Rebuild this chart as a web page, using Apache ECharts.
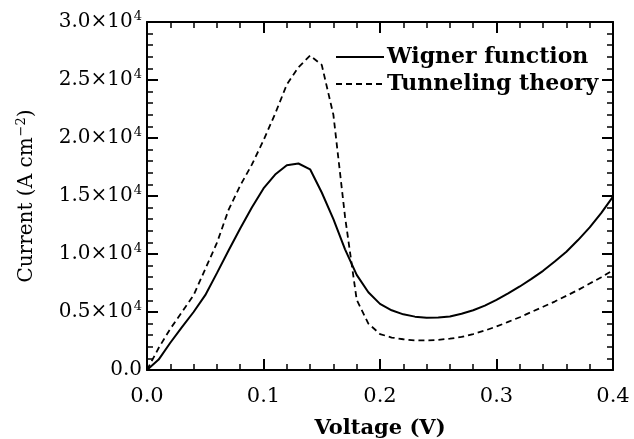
<!DOCTYPE html>
<html>
<head>
<meta charset="utf-8">
<script src="https://cdn.jsdelivr.net/npm/echarts@6/dist/echarts.min.js"></script>
<style>
html,body{margin:0;padding:0;background:#fff;}
#chart{width:634px;height:439px;}
</style>
</head>
<body>
<div id="chart"></div>
<script>
// Voltage (V)
const voltage = [0.00,0.01,0.02,0.03,0.04,0.05,0.06,0.07,0.08,0.09,
                 0.10,0.11,0.12,0.13,0.14,0.15,0.16,0.17,0.18,0.19,
                 0.20,0.21,0.22,0.23,0.24,0.25,0.26,0.27,0.28,0.29,
                 0.30,0.31,0.32,0.33,0.34,0.35,0.36,0.37,0.38,0.39,0.40];
// Current (A cm^-2)
const wigner = [0,900,2350,3700,5000,6450,8350,10300,12200,14000,
                15650,16850,17650,17800,17300,15300,13000,10400,8200,6700,
                5700,5150,4800,4600,4500,4520,4620,4850,5150,5550,
                6050,6600,7200,7850,8550,9350,10200,11200,12300,13550,14950];
const tunneling = [0,1900,3550,5000,6450,8700,10950,13800,15900,17700,
                   19800,22100,24600,26100,27100,26300,22000,13200,6050,4000,
                   3100,2800,2650,2550,2550,2600,2700,2850,3100,3400,
                   3750,4150,4550,5000,5450,5900,6400,6900,7450,8000,8600];
const seriesNames = ['Wigner function', 'Tunneling theory'];
const xTickLabels = ['0.0','0.1','0.2','0.3','0.4'];
const yTickMantissa = ['0.0','0.5','1.0','1.5','2.0','2.5','3.0'];
const yTickExp = '4';
const xName = 'Voltage (V)';
const yNameMain = 'Current (A cm';
const yNameExp = '−2';

const FONT = 'DejaVu Serif';
const chart = echarts.init(document.getElementById('chart'), null, {renderer: 'canvas'});

function pairs(xs, ys){ return xs.map((x,i)=>[x, ys[i]]); }

function axisCommon(){
  return {
    axisLine: {show: true, onZero: false, lineStyle: {color: '#000', width: 2}},
    axisTick: {show: true, inside: true, length: 11, lineStyle: {color: '#000', width: 2}},
    minorTick: {show: true, splitNumber: 5, length: 6, lineStyle: {color: '#000', width: 1.5}},
    splitLine: {show: false},
    minorSplitLine: {show: false}
  };
}

const supRich = {
  a: {fontFamily: FONT, fontSize: 20, color: '#000'},
  s: {fontFamily: FONT, fontSize: 13, color: '#000', verticalAlign: 'bottom', padding: [0,0,11,1]}
};

const option = {
  backgroundColor: '#fff',
  animation: false,
  grid: {left: 147, right: 21, top: 22, bottom: 69, containLabel: false, outerBoundsMode: 'none'},
  legend: {
    orient: 'vertical',
    left: 335,
    top: 46,
    itemWidth: 48,
    itemHeight: 14,
    itemGap: 5,
    padding: 0,
    selectedMode: false,
    itemStyle: {color: 'transparent', borderColor: 'transparent', borderWidth: 0},
    textStyle: {fontFamily: FONT, fontSize: 22, fontWeight: 'bold', color: '#000', padding: [0,0,0,-2]},
    data: seriesNames
  },
  xAxis: [
    Object.assign(axisCommon(), {
      type: 'value', position: 'bottom', min: 0, max: 0.4, interval: 0.1,
      name: xName, nameLocation: 'middle', nameGap: 48,
      nameTextStyle: {fontFamily: FONT, fontSize: 21, fontWeight: 'bold', color: '#000'},
      axisLabel: {
        show: true, margin: 16, color: '#000', fontFamily: FONT, fontSize: 21,
        formatter: v => xTickLabels[Math.round(v / 0.1)]
      }
    }),
    Object.assign(axisCommon(), {
      type: 'value', position: 'top', min: 0, max: 0.4, interval: 0.1,
      axisLabel: {show: false}
    })
  ],
  yAxis: [
    Object.assign(axisCommon(), {
      type: 'value', position: 'left', min: 0, max: 30000, interval: 5000,
      name: '{a|' + yNameMain + '}{s|' + yNameExp + '}{a|)}',
      nameLocation: 'middle', nameGap: 108, nameRotate: 90,
      nameTextStyle: {rich: supRich},
      axisLabel: {
        show: true, margin: 5, color: '#000',
        formatter: v => {
          const i = Math.round(v / 5000);
          if (i === 0) return '{a|' + yTickMantissa[0] + '}';
          return '{a|' + yTickMantissa[i] + '×10}{s|' + yTickExp + '}';
        },
        rich: supRich
      }
    }),
    Object.assign(axisCommon(), {
      type: 'value', position: 'right', min: 0, max: 30000, interval: 5000,
      axisLabel: {show: false}
    })
  ],
  series: [
    {
      name: seriesNames[0], type: 'line', xAxisIndex: 0, yAxisIndex: 0,
      data: pairs(voltage, wigner), symbol: 'none', smooth: false,
      lineStyle: {color: '#000', width: 2, type: 'solid'}, itemStyle: {color: '#000'}
    },
    {
      name: seriesNames[1], type: 'line', xAxisIndex: 0, yAxisIndex: 0,
      data: pairs(voltage, tunneling), symbol: 'none', smooth: false,
      lineStyle: {color: '#000', width: 1.8, type: [6, 4]}, itemStyle: {color: '#000'}
    }
  ]
};
chart.setOption(option);
</script>
</body>
</html>
